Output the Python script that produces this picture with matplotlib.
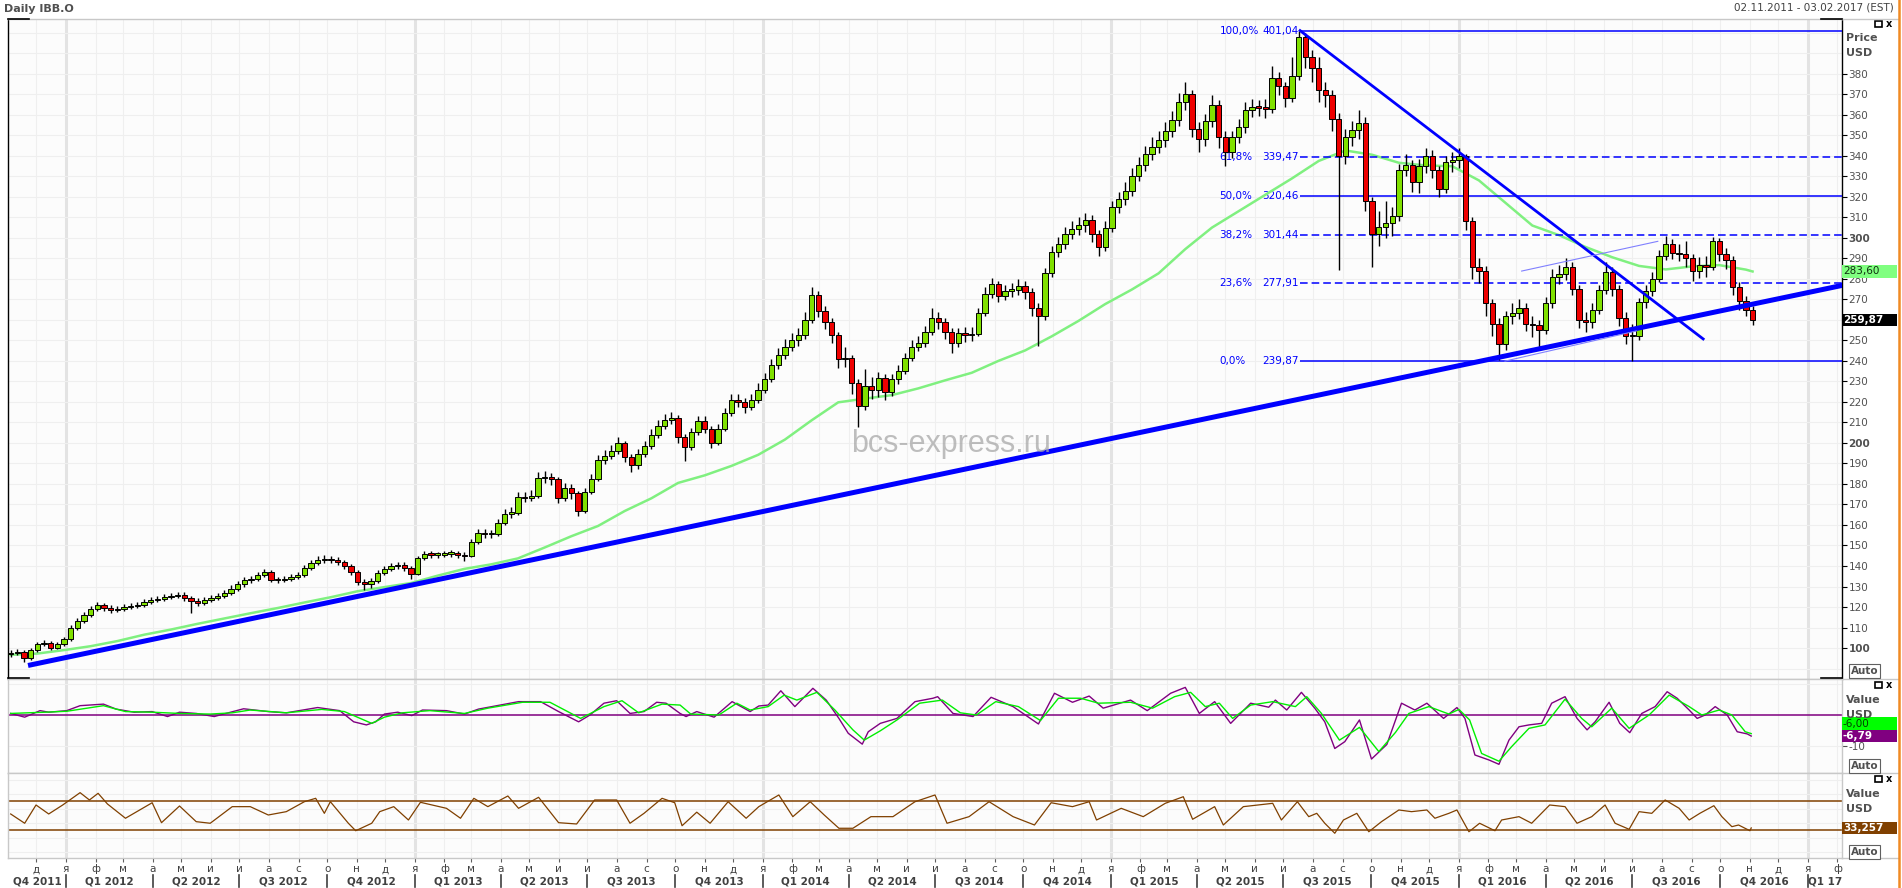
import datetime as dt
import matplotlib
matplotlib.use('Agg')
import matplotlib.pyplot as plt
from matplotlib.patches import Rectangle
from matplotlib.lines import Line2D
from matplotlib.transforms import blended_transform_factory as blend

plt.rcParams['font.family'] = ['DejaVu Sans']

W, H = 1902, 888
START = dt.date(2011, 11, 4)   # Friday of the first weekly bar
X0, X1 = -0.4, 274.4           # 02.11.2011 .. 03.02.2017, in weeks from START

# ---- weekly candles (week index = position) ----
first_open = 97.0
close = [97.5, 98, 95, 99, 102, 102.5, 100, 102, 104.5, 110,
         113, 116, 119, 121, 119.5, 118.5, 119, 120, 120.5, 121,
         122.5, 123.5, 124, 125, 125.5, 126, 124.5, 123, 122, 123.5,
         124.5, 125.5, 127, 129, 131, 133, 133.5, 135.5, 137, 133,
         133, 133.5, 134.5, 135.6, 139, 141.5, 143, 143.5, 143, 142,
         140, 137, 132, 131, 132.5, 136.6, 138.5, 140, 140.5, 139,
         136, 144, 146, 145.5, 145.5, 146, 146.2, 145.5, 145, 151.5,
         156, 155.5, 155.5, 161, 165.5, 166, 173.5, 173.2, 174, 183,
         183.5, 182.3, 173, 178, 175.5, 167, 176, 182.5, 191.7, 193.5,
         196, 200, 193, 189, 194.5, 198.5, 204, 208.5, 211.3, 212,
         203, 198, 205.5, 210.5, 207, 200, 207, 214.5, 221, 220,
         217.5, 221, 226, 231, 238, 243, 247, 250, 252.5, 260,
         272, 264.5, 259, 252.5, 241, 241.5, 229, 218, 228, 226,
         231.5, 225, 231, 235, 241.5, 247, 248.8, 254, 261, 259,
         254, 248.5, 253.8, 252.5, 253, 263.5, 272.5, 277.3, 271.5, 274.3,
         274.5, 276.5, 273.5, 266, 262, 283, 293, 297, 302, 304.5,
         306.5, 308.5, 302, 295.5, 305, 315, 319, 323, 330, 335.5,
         341, 344.5, 347.8, 352, 357.5, 366, 370, 353, 348, 357,
         365, 349, 342, 349, 354, 362.5, 363.8, 363.5, 363, 378,
         374, 368, 379, 398, 388, 383, 372, 369.5, 358, 340,
         349, 352.5, 356, 318, 302, 305.5, 307, 310.5, 333, 335.5,
         327, 335, 340, 333, 324, 337, 338, 340, 308, 286,
         284, 268, 258, 248, 262, 263.5, 266, 258, 257.5, 255,
         268, 281, 282.5, 286, 275, 260, 259, 265, 274.5, 283.5,
         275, 261, 252, 252, 268.5, 274, 280, 291, 297, 292.5,
         292, 290, 284, 287, 286, 298.5, 292, 289, 276, 269,
         265, 259.87]
high = [99, 99.5, 99, 100, 103, 104, 103.5, 103, 105.5, 111,
        114.5, 117.5, 120.5, 122.5, 122, 121, 120.5, 121.5, 122, 122.5,
        124, 125, 125.5, 126.5, 127, 127.5, 127.5, 125.5, 124.5, 125,
        126, 127, 128.5, 130.5, 132.5, 134.5, 135, 137, 138.5, 138,
        134.5, 135, 136, 137, 140.5, 143, 145, 145.5, 145, 144.5,
        143, 141, 138, 133.5, 134, 138, 140, 141.5, 142, 142,
        140, 145, 147.5, 147.5, 147, 147.5, 148, 147.5, 147, 153,
        158, 158, 157.5, 163, 168, 169, 176, 176, 177, 186,
        186.5, 185.5, 183.5, 180.5, 180, 176.5, 178, 185, 194, 196.5,
        199, 203, 201, 194.5, 197, 201, 207, 211, 214, 215,
        213.5, 204.5, 207.5, 213, 213, 208.5, 209, 217, 224, 224,
        222, 224, 229, 234, 241, 246.5, 250.5, 253.5, 256, 264,
        276, 274, 267, 261, 254, 247, 243, 231, 236, 232,
        234.5, 233.5, 233.5, 238, 244, 250, 252, 257, 266, 264,
        261, 256, 256, 256.5, 256.5, 266, 276, 280.5, 279, 277,
        278, 280, 279, 275.5, 268, 285.5, 296, 300.5, 305.5, 308,
        310, 312, 311, 304, 308, 318, 322.5, 327, 334, 339.5,
        345, 349, 352, 356.5, 362, 370.5, 376, 372, 356.5, 360.5,
        369.5, 367, 352, 352, 358, 366, 367.5, 367, 367.5, 384,
        381, 376, 388, 401.04, 400, 391.5, 388, 376, 372, 361,
        353, 357, 362.5, 359, 320, 313, 318, 315, 336, 341,
        338, 338.5, 344, 343, 335, 340, 342, 344, 341, 310,
        290, 286.5, 270, 261, 264.5, 268, 270, 268, 262, 260,
        271, 285, 287, 290, 288, 277, 264, 268, 277, 288,
        286, 277, 264, 258, 270.5, 277, 283.5, 294, 301, 299.5,
        297, 298.5, 292, 290.5, 291, 300.6, 300, 295, 291, 278.5,
        271.5, 267]
low = [95.5, 96.5, 93, 94, 98, 101, 99, 99.5, 101, 103.5,
       109, 112, 115, 118, 118, 117, 117.5, 118, 119, 119.5,
       120, 121.5, 122.5, 123, 124, 124.5, 123, 117, 120.5, 121,
       122.5, 123.5, 124.5, 126, 128, 130, 131.5, 132.5, 134.5, 132,
       131.5, 132, 132.5, 133.5, 134.5, 138, 140.5, 141.5, 141.5, 140.5,
       138.5, 135.5, 130.5, 128.5, 129.5, 131.5, 135.5, 137.5, 138.5, 137.5,
       133.5, 135.5, 143, 144, 144, 144.5, 144.5, 144, 142.5, 144.5,
       150.5, 153.5, 153.5, 154.5, 160, 163.5, 165, 171, 171.5, 173,
       180.5, 179.5, 170.5, 171.5, 172.5, 164.5, 166, 175, 181.5, 189.5,
       192, 194.5, 190.5, 186, 187.5, 193, 197, 202.5, 207, 209,
       200, 191, 196.5, 204, 205, 197.5, 199, 206, 213, 217.5,
       214.5, 216, 219.5, 224.5, 229.5, 236, 241, 245, 247.5, 250.5,
       258.5, 261.5, 255.5, 248.5, 236.5, 237, 224, 208, 216, 221.5,
       222.5, 221, 223, 228.5, 233.5, 240, 245, 247, 252.5, 255.5,
       250.5, 244, 247, 249, 249.5, 252, 262, 270.5, 268.5, 269.5,
       271, 272, 270, 262, 247.5, 260, 281, 290.5, 294.5, 299.5,
       301.5, 303, 298, 291, 293.5, 303, 312, 316, 320.5, 327.5,
       332.5, 338, 341.5, 344.5, 349, 354.5, 362.5, 349, 342, 345,
       354, 344, 335, 339, 346, 351, 359, 359.5, 358.5, 361,
       369.5, 364, 366, 377, 383, 376, 366, 364, 352, 284.5,
       336, 345, 348, 313, 286, 296, 300, 301, 308, 330,
       322.5, 322, 331.5, 329, 320, 322, 332, 334, 304, 280,
       278, 262, 252, 240.5, 245.5, 258, 260.5, 254.5, 251.5, 246.5,
       253, 266, 277.5, 279.5, 272, 256, 254, 256, 263, 272.5,
       271.5, 257, 248, 240, 250, 266, 271.5, 278.5, 289, 289.5,
       288.5, 286, 279, 280.5, 281, 284.5, 288.5, 285, 272, 265,
       262, 257.5]

# 200-day moving average, sampled every 4 weeks
ma_week = list(range(0, 261, 4)) + [261]
ma200 = [96.7, 97.3, 99, 100.9, 103.4, 106.5, 109, 111.8, 114.4, 117,
         119.5, 122.2, 124.8, 127.7, 129.7, 131.7, 135.3, 138.6, 140.8, 143.7,
         149, 154.5, 159.5, 166.8, 173, 180.5, 184.2, 188.8, 194.2, 201.6,
         211, 219.8, 221.6, 223.3, 226.6, 230.5, 234.2, 240, 245.1, 252,
         259.5, 267.7, 274.8, 282.7, 294.5, 305, 313, 321, 329, 337.5,
         342.6, 340.5, 336.6, 335.3, 334.9, 328, 317, 306, 301.3, 295.5,
         290.5, 286.3, 284.6, 286.1, 286.7, 284.5, 283.6]

# trend lines (week, price)
rise_line = ([2.6, 274.7], [91.5, 277])
fall_line = ([193.2, 253.6], [401.04, 250.7])
chan_top = ([226.4, 246.8], [283.8, 298.3])
chan_bot = ([223.9, 243.6], [239.9, 254.6])

# Fibonacci retracement
fib_start = 193.2
fib_pct = ['100,0%', '61,8%', '50,0%', '38,2%', '23,6%', '0,0%']
fib_val = [401.04, 339.47, 320.46, 301.44, 277.91, 239.87]
fib_dash = [False, True, False, True, True, False]

# oscillator panel (purple line and its green signal)
macd_w = [0, 2.1, 4.4, 5.7, 8.4, 10.4, 13.9, 15.8, 18.5, 21.2, 23.5, 25.3, 27.8, 30.5,
          32.6, 34.9, 38.6, 41.3, 46, 49.3, 51.4, 53.3, 54.7, 56, 58, 60.1, 61.7, 65.3,
          68, 70.1, 72.1, 76.1, 79.4, 82.1, 85.1, 86.8, 88.9, 90.8, 92.8, 94.9, 96.8,
          98.2, 100.3, 101.2, 102.8, 105.4, 108.1, 110.8, 112.1, 113.5, 115.4, 117.5,
          120.2, 122.2, 124.1, 125.5, 127.6, 128.5, 130.3, 132.8, 135.5, 138.2, 138.9,
          141.2, 144.2, 146.9, 150.2, 154, 156.4, 159.1, 161.6, 163.7, 167.8, 170.3,
          173.8, 176, 178.1, 180.4, 182.8, 185.8, 188.5, 189.5, 191.2, 193.4, 195.4,
          196.9, 198.4, 199.9, 202.1, 203.9, 206.2, 208.4, 210.4, 212.2, 214.7, 216.7,
          217.9, 219.4, 221.5, 223, 224.5, 226, 227.5, 229.4, 230.9, 232.9, 234.7,
          236.2, 237.4, 239.5, 241.1, 242.6, 244.4, 246.4, 248.2, 249.7, 251.5, 252.7,
          253.9, 255.4, 257.2, 258.7, 260.2, 260.8]
macd = [0.5, -0.7, 1.4, 0.9, 1.4, 3, 3.5, 1.9, 0.9, 1.1, -0.5, 0.9, 0.5, -0.5,
        0.7, 2, 1.1, 0.7, 2.4, 1.4, -2.2, -3.2, -2.2, 0.3, 0.9, -0.2, 1.6, 1.4,
        0.3, 1.9, 2.7, 4.3, 4.3, 1.1, -2.2, 0, 3.8, 4.6, 0.5, 1.1, 4.1,
        3.8, 0.5, -0.5, 1.1, -0.7, 4.3, 1.1, 2.9, 3.2, 7.8, 2.7,
        8.6, 4.8, -1.1, -5.9, -9.4, -5.4, -2.7, -1.1, 4.3, 5.4, 5.9,
        0.5, -0.5, 5.7, 2.7, -2.9, 7, 4.1, 6.1, 2.2, 4.8, 1.4,
        7, 8.9, 0.5, 4.3, -2.7, 3.8, 2.5, 4.8, 1.6, 7.3, 2.2,
        -2.2, -10.8, -8.6, -1.6, -14.2, -9.5, 3.8, 1.6, 3.8, -1.1, 2.4,
        -1.1, -12.9, -14.5, -15.9, -8.1, -3.8, -3.2, -2.7, 3.8, 5.9, -1.1,
        -4.8, -2.2, 4.1, -2.7, -5.7, 0.5, 2.7, 7.5, 5.4, 1.6, -1.1,
        0, 2.7, 0, -5.4, -6.1, -6.79]
sig_w = [0, 5.2, 8.4, 13.9, 17.2, 21.2, 25.3, 29.9, 33.2, 35.9, 41.3, 46.6, 50, 54.1,
         56, 58.7, 62.8, 68, 71.5, 76.7, 80.8, 85.4, 88.9, 91.6, 94.1, 97.6, 100.3,
         101.9, 106.1, 108.8, 110.8, 113.5, 115.9, 117.8, 120.8, 123.5, 126.2, 127.9,
         130.3, 132.8, 136.2, 139.6, 142.3, 144.7, 147.6, 151, 154.3, 157, 160.3, 163,
         167.8, 171.1, 174.4, 176.8, 179, 181.1, 183.1, 185.8, 189.1, 192.5, 194.2,
         196.4, 199.1, 202.1, 205, 207.5, 209.5, 212.5, 215.5, 217, 218.6, 220.4, 223,
         224.9, 227.5, 229.9, 232.9, 235.4, 236.9, 239.9, 242.5, 245.5, 248.5, 251.5,
         253.4, 256, 257.9, 259.9, 260.8]
signal = [0.5, 0.9, 1.2, 3, 1.1, 0.9, 0.5, 0.3, 0.7, 1.6, 0.7, 1.8, 1.1, -2.7,
          -0.7, 0.7, 1.4, 0.5, 2.2, 4.1, 4.1, -1.1, 2.7, 4.6, 0.7, 3.5, 3.2,
          0.3, 0, 3.8, 1.6, 2.7, 6.4, 4.8, 7.3, 1.6, -4.8, -8.1,
          -5.1, -1.6, 3.8, 4.8, 0.7, 0, 4.3, 2.7, -1.8, 5.4, 5.4, 3.8,
          4.1, 2.2, 5.9, 7.3, 2.7, 3.8, -1.1, 3.2, 4.3, 2.7, 5.9,
          0.5, -8.1, -4.0, -11.8, -5.6, 0.5, 2.7, 0.3, 1.8, -1.6, -12.4, -14.9,
          -10.2, -4.3, -3.2, 5.1, -1.1, -3.8, 2.2, -4.3, 0, 6.4, 2.7,
          0, 1.6, 0, -5.4, -6.0]

# RSI panel
rsi_w = [0, 2.1, 3.8, 5.7, 7.8, 10.4, 11.8, 13.1, 14.5, 17.2,
         21.2, 22.6, 25.3, 27.8, 29.9, 33.2, 35.9, 38.6, 41.3, 44,
         45.7, 47, 47.9, 50.6, 51.7, 54.1, 55.3, 57.4, 59.6, 61.4,
         65.3, 67.4, 69.4, 71.5, 74.5, 76.1, 79.1, 82.1, 84.8, 87.5,
         90.8, 92.8, 94.9, 97.6, 99.5, 100.6, 102.8, 104.8, 107.5, 110.2,
         112.1, 115.1, 117.2, 119.8, 121.9, 124.1, 126.2, 128.9, 132.2, 135.5,
         138.5, 140.3, 143.6, 146.6, 150.2, 153.4, 155.9, 159.1, 161.6, 162.7,
         166.4, 169.7, 173, 175.7, 177.1, 180.4, 181.7, 184.7, 189.1, 190.4,
         192.8, 194.5, 195.7, 196.9, 198.4, 199.7, 201.7, 203.5, 205.4, 208,
         209.9, 212.2, 213.4, 215.5, 216.7, 218.5, 220.1, 222.4, 223.4, 226,
         227.9, 230.6, 232.9, 234.7, 236.9, 238.9, 240.4, 242.5, 244, 245.9,
         247.9, 250, 251.5, 253.1, 255.2, 256.4, 257.9, 258.9, 260.6, 260.8]
rsi = [52.5, 39.7, 64.9, 52.5, 64.9, 81.9, 71.8, 81, 66.3, 46.6,
       68, 40.5, 63.5, 41.9, 39.7, 62.6, 62.6, 51.1, 55.7, 69.4,
       74.1, 53.4, 69.4, 39.7, 29.4, 39.7, 55.7, 62.6, 44.2, 68.6,
       60.3, 46.6, 74.1, 62.6, 77.3, 60.3, 75.5, 40.5, 38.7, 71.8,
       71.8, 39.7, 53.4, 74.1, 68, 36.3, 55, 39.7, 69.4, 46.6,
       62.6, 78.7, 48.8, 69.4, 51.1, 32.8, 32.8, 48.8, 48.8, 69.4,
       78.7, 39.7, 48.8, 69.4, 48.8, 37.3, 68, 62.6, 69.4, 44.2,
       60.3, 48.8, 67.2, 76.3, 45.2, 62.6, 37.3, 62.6, 67.2, 44.2,
       69.4, 48.8, 53.4, 39.7, 25.9, 44.2, 53.4, 28, 41.9, 58,
       55.7, 58, 46.6, 53.4, 58, 28, 39.7, 29.4, 44.2, 48.8,
       39.7, 64.9, 62.6, 39.7, 48.8, 64.9, 39.7, 31.4, 55.7, 53.4,
       71.8, 60.3, 44.2, 53.4, 63.9, 48.8, 35, 37.3, 29.4, 33.257]
rsi_levels = [70, 30]

month_letters = ['я', 'ф', 'м', 'а', 'м', 'и', 'и', 'а', 'с', 'о', 'н', 'д']
quarter_labels = ['Q4 2011',
                  'Q1 2012', 'Q2 2012', 'Q3 2012', 'Q4 2012',
                  'Q1 2013', 'Q2 2013', 'Q3 2013', 'Q4 2013',
                  'Q1 2014', 'Q2 2014', 'Q3 2014', 'Q4 2014',
                  'Q1 2015', 'Q2 2015', 'Q3 2015', 'Q4 2015',
                  'Q1 2016', 'Q2 2016', 'Q3 2016', 'Q4 2016',
                  'Q1 17']

assert len(close) == len(high) == len(low)
assert len(macd_w) == len(macd) and len(sig_w) == len(signal) and len(rsi_w) == len(rsi)


def wk(d):
    return (d - START).days / 7


def fx(x):
    return x / W


def fy(y):
    return 1 - y / H


def frame(x0, y0, x1, y1):
    return [x0 / W, 1 - y1 / H, (x1 - x0) / W, (y1 - y0) / H]


def add_month(d, n):
    m = d.month - 1 + n
    return dt.date(d.year + m // 12, m % 12 + 1, 1)


fig = plt.figure(figsize=(W / 100, H / 100), dpi=100)
fig.patch.set_facecolor('white')
ax = fig.add_axes(frame(8, 19, 1842, 679))
ax2 = fig.add_axes(frame(8, 679, 1842, 773), sharex=ax)
ax3 = fig.add_axes(frame(8, 773, 1842, 858), sharex=ax)

months = []
d = dt.date(2011, 12, 1)
while d <= dt.date(2017, 2, 1):
    months.append(d)
    d = add_month(d, 1)

for a in (ax, ax2, ax3):
    a.set_facecolor('#fcfcfc')
    for s in a.spines.values():
        s.set_color('#c8c8c8')
        s.set_linewidth(1)
    for d in months:
        if d.month == 1:
            a.axvline(wk(d), color='#e3e3e3', lw=2.2, zorder=0)
        else:
            a.axvline(wk(d), color='#efefef', lw=0.8, zorder=0)
ax.spines['left'].set_color('black')
ax.spines['right'].set_color('black')

# ---- main price panel ----
for p in range(90, 410, 10):
    ax.axhline(p, color='#efefef', lw=0.8, zorder=0)

weeks = list(range(len(close)))
opens = [first_open] + close[:-1]
hi = [max(h, o, c) for h, o, c in zip(high, opens, close)]
lo = [min(l, o, c) for l, o, c in zip(low, opens, close)]
ups = [c >= o for o, c in zip(opens, close)]
ax.vlines(weeks, lo, hi, colors='black', lw=1.0, zorder=4)
ax.bar(weeks, [max(abs(c - o), 0.6) for o, c in zip(opens, close)],
       bottom=[min(o, c) for o, c in zip(opens, close)], width=0.8,
       color=['#80e000' if u else '#ee0000' for u in ups],
       edgecolor='black', linewidth=0.7, zorder=5)

ax.plot(ma_week, ma200, color='#80f080', lw=1.8, zorder=3)

ax.plot(*rise_line, color='#0000ff', lw=3.6, zorder=6, solid_capstyle='butt')
ax.plot(*fall_line, color='#0000ff', lw=2.0, zorder=6)
ax.plot(*chan_top, color='#8080ff', lw=0.8, zorder=6)
ax.plot(*chan_bot, color='#8080ff', lw=0.8, zorder=6)

for pct, v, dsh in zip(fib_pct, fib_val, fib_dash):
    ax.hlines(v, fib_start, X1, color='#0000ff', lw=1.1,
              linestyles=(0, (5, 2.6)) if dsh else 'solid', zorder=3)
    ax.text(181.1, v, pct, color='#0000ff', fontsize=7.5, va='center', ha='left', zorder=2)
    ax.text(187.5, v, f'{v:.2f}'.replace('.', ','), color='#0000ff', fontsize=7.5,
            va='center', ha='left', zorder=2)

ax.set_xlim(X0, X1)
ax.set_ylim(84.9, 406.7)
ax.yaxis.tick_right()
yt = list(range(100, 390, 10))
ax.set_yticks(yt)
# the 260 label sits under the last-price box
ax.set_yticklabels(['' if v == 260 else str(v) for v in yt])
for lab, v in zip(ax.get_yticklabels(), yt):
    if v % 100 == 0:
        lab.set_fontweight('bold')
ax.tick_params(axis='y', direction='out', length=3.6, width=0.8, color='black',
               pad=1, labelsize=7.5, labelcolor='#505050')
ax.tick_params(axis='x', bottom=False, labelbottom=False)

bt = blend(ax.transAxes, ax.transData)
bw = 55 / 1834
ax.add_patch(Rectangle((1.0, ma200[-1] - 3.0), bw, 6.1, transform=bt, fc='#80ff80',
                       ec='none', clip_on=False, zorder=10))
ax.text(1.0005, ma200[-1], f'{ma200[-1]:.2f}'.replace('.', ','), transform=bt, va='center',
        ha='left', fontsize=7.5, color='#103010', clip_on=False, zorder=11)
ax.add_patch(Rectangle((1.0, close[-1] - 3.0), bw, 6.1, transform=bt, fc='black',
                       ec='none', clip_on=False, zorder=10))
ax.text(1.0005, close[-1], f'{close[-1]:.2f}'.replace('.', ','), transform=bt, va='center',
        ha='left', fontsize=7.5, color='white', fontweight='bold', clip_on=False, zorder=11)

# ---- oscillator panel ----
ax2.axhline(10, color='#efefef', lw=0.8, zorder=0)
ax2.axhline(-10, color='#efefef', lw=0.8, zorder=0)
ax2.axhline(0, color='#800080', lw=1.1, zorder=2)
ax2.plot(macd_w, macd, color='#800080', lw=1.0, zorder=3)
ax2.plot(sig_w, signal, color='#00ee00', lw=1.0, zorder=4)
ax2.set_ylim(-18.7, 11.6)
ax2.yaxis.tick_right()
ax2.set_yticks([-10])
ax2.set_yticklabels(['-10'])
ax2.tick_params(axis='y', direction='out', length=3.6, width=0.8, color='#505050',
                pad=1, labelsize=7.5, labelcolor='#505050')
ax2.tick_params(axis='x', bottom=False, labelbottom=False)
bt2 = blend(ax2.transAxes, ax2.transData)
ax2.add_patch(Rectangle((1.0, macd[-1] - 2.0), bw, 4.0, transform=bt2, fc='#800080',
                        ec='none', clip_on=False, zorder=10))
ax2.text(1.0005, macd[-1], f'{macd[-1]:.2f}'.replace('.', ','), transform=bt2, va='center',
         ha='left', fontsize=7.5, color='white', fontweight='bold', clip_on=False, zorder=11)
ax2.add_patch(Rectangle((1.0, macd[-1] + 2.0), bw, 4.0, transform=bt2, fc='#00ff00',
                        ec='none', clip_on=False, zorder=10))
ax2.text(1.0005, macd[-1] + 4.0, f'{signal[-1]:.2f}'.replace('.', ','), transform=bt2,
         va='center', ha='left', fontsize=7.5, color='#004000', clip_on=False, zorder=11)

# ---- RSI panel ----
for g in range(0, 101, 20):
    ax3.axhline(g, color='#efefef', lw=0.8, zorder=0)
for lvl in rsi_levels:
    ax3.axhline(lvl, color='#804000', lw=1.1, zorder=2)
ax3.plot(rsi_w, rsi, color='#804000', lw=0.9, zorder=3)
ax3.set_ylim(-8.2, 109)
ax3.set_yticks([])
bt3 = blend(ax3.transAxes, ax3.transData)
ax3.add_patch(Rectangle((1.0, rsi[-1] - 8.5), bw, 17, transform=bt3, fc='#804000',
                        ec='none', clip_on=False, zorder=10))
ax3.text(1.0005, rsi[-1], f'{rsi[-1]:.3f}'.replace('.', ','), transform=bt3, va='center',
         ha='left', fontsize=7.5, color='white', fontweight='bold', clip_on=False, zorder=11)

ax3.set_xticks([wk(d) for d in months])
ax3.set_xticklabels([month_letters[d.month - 1] for d in months])
ax3.tick_params(axis='x', direction='out', length=3, width=0.8, color='#606060',
                labelsize=7.5, labelcolor='#404040', pad=1.5)
ax3.set_xlim(X0, X1)

# quarter labels and separators
qdates = [dt.date(2011, 10, 1)]
while len(qdates) <= len(quarter_labels):
    qdates.append(add_month(qdates[-1], 3))
tr = blend(ax3.transData, fig.transFigure)
for i, lab in enumerate(quarter_labels):
    a = max(wk(qdates[i]), X0)
    b = min(wk(qdates[i + 1]), X1)
    ax3.text((a + b) / 2, fy(881), lab, transform=tr, ha='center', va='center',
             fontsize=7.5, fontweight='bold', color='#404040', clip_on=False)
    if i > 0:
        ax3.plot([wk(qdates[i])] * 2, [fy(875), fy(887)], transform=tr, color='#404040',
                 lw=1.2, clip_on=False)

# ---- frame decorations ----
for y in (19, 679, 773, 858):
    fig.add_artist(Line2D([fx(1842), fx(1898)], [fy(y), fy(y)], color='#c8c8c8', lw=1,
                          transform=fig.transFigure))
for x0, x1, y in ((8, 29, 19), (1821, 1842, 19), (8, 29, 678), (1821, 1842, 678)):
    fig.add_artist(Line2D([fx(x0), fx(x1)], [fy(y), fy(y)], color='black', lw=1.2,
                          transform=fig.transFigure))
fig.add_artist(Line2D([fx(1899), fx(1899)], [0, 1], color='#f08a24', lw=1.8,
                      transform=fig.transFigure))

fig.text(fx(4), fy(9), 'Daily IBB.O', fontsize=8, fontweight='bold', color='#505050',
         va='center', ha='left')
fig.text(fx(1894), fy(8), '02.11.2011 - 03.02.2017 (EST)', fontsize=7.5, color='#404040',
         va='center', ha='right')

for ytop, (t1, t2) in ((38, ('Price', 'USD')), (700, ('Value', 'USD')), (794, ('Value', 'USD'))):
    fig.text(fx(1846), fy(ytop), t1, fontsize=8, fontweight='bold', color='#505050', va='center')
    fig.text(fx(1846), fy(ytop + 15), t2, fontsize=8, fontweight='bold', color='#505050',
             va='center')

for yc in (24, 685, 779):
    fig.add_artist(Rectangle((fx(1875), fy(yc + 3)), 7 / W, 6 / H, fc='none', ec='black',
                             lw=1.2, transform=fig.transFigure))
    fig.text(fx(1886), fy(yc), 'x', fontsize=7, fontweight='bold', color='black', va='center')

for yc in (671, 766, 852):
    fig.text(fx(1851), fy(yc), 'Auto', fontsize=7.5, fontweight='bold', color='#505050',
             va='center', ha='left',
             bbox=dict(boxstyle='square,pad=0.15', fc='white', ec='#606060', lw=0.8))

fig.text(fx(951), fy(444), 'bcs-express.ru', fontsize=22, color='#a8a8a8', alpha=0.75,
         ha='center', va='center', family=['Liberation Sans', 'DejaVu Sans'], zorder=20)

fig.savefig('out.png', dpi=100)
